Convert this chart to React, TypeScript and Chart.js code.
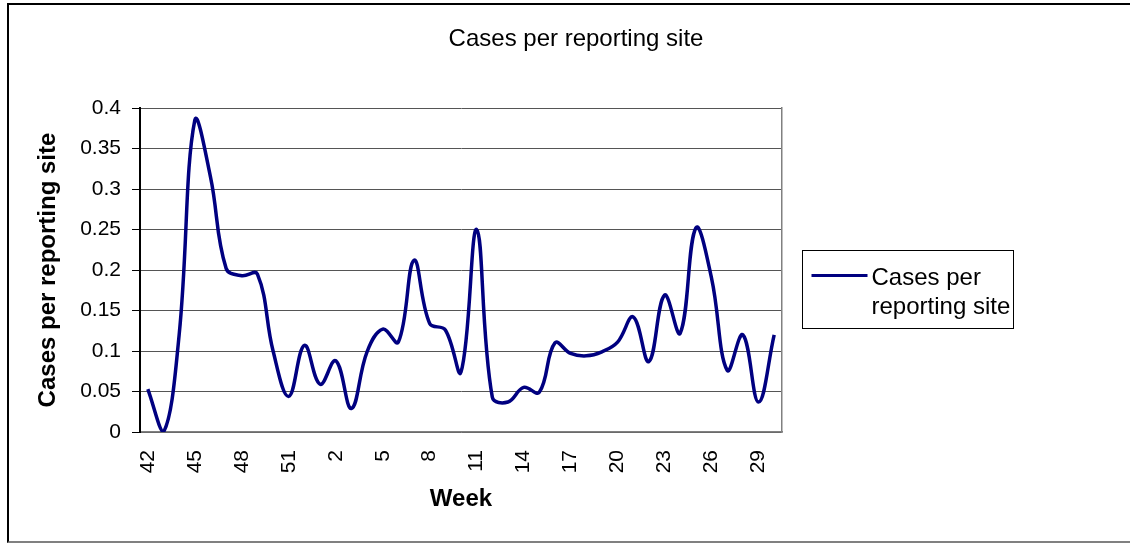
import React, { useEffect, useRef } from 'react';
import { Chart, registerables } from 'chart.js';

Chart.register(...registerables);

// ---- Data ----
const weeks: string[] = [
  '42', '43', '44', '45', '46', '47', '48', '49', '50', '51', '52',
  '1', '2', '3', '4', '5', '6', '7', '8', '9', '10',
  '11', '12', '13', '14', '15', '16', '17', '18', '19', '20',
  '21', '22', '23', '24', '25', '26', '27', '28', '29', '30',
];

const casesPerSite: number[] = [
  0.053, 0.0, 0.12, 0.385, 0.315, 0.202, 0.193, 0.195, 0.1, 0.044, 0.107,
  0.059, 0.088, 0.029, 0.099, 0.127, 0.111, 0.212, 0.134, 0.126, 0.074,
  0.25, 0.043, 0.037, 0.055, 0.049, 0.11, 0.097, 0.094, 0.099, 0.111,
  0.142, 0.087, 0.169, 0.122, 0.252, 0.19, 0.076, 0.12, 0.037, 0.12,
];

const yMin = 0;
const yMax = 0.4;
const yStep = 0.05;
const xLabelEvery = 3;

const chartTitle = 'Cases per reporting site';
const seriesLabel = 'Cases per reporting site';
const legendLines: string[] = ['Cases per', 'reporting site'];
const xAxisTitle = 'Week';
const yAxisTitle = 'Cases per reporting site';

const FONT = "'Liberation Sans', Arial, Helvetica, sans-serif";
const LINE_COLOR = '#000080';

const legendPlugin = {
  id: 'excelLegend',
  afterDraw(chart: any) {
    const ctx = chart.ctx;
    const ds = chart.data.datasets[0];
    const area = chart.chartArea;
    const boxX = area.right + 20.5;
    const boxY = 250.5;
    const boxW = 211;
    const boxH = 78;
    ctx.save();
    ctx.strokeStyle = '#000';
    ctx.lineWidth = 1;
    ctx.strokeRect(boxX, boxY, boxW, boxH);
    // line sample
    ctx.strokeStyle = ds.borderColor;
    ctx.lineWidth = 3;
    ctx.beginPath();
    ctx.moveTo(boxX + 9, boxY + 25);
    ctx.lineTo(boxX + 65, boxY + 25);
    ctx.stroke();
    // text
    ctx.fillStyle = '#000';
    ctx.font = `24px ${FONT}`;
    ctx.textAlign = 'left';
    ctx.textBaseline = 'alphabetic';
    legendLines.forEach((line, i) => {
      ctx.fillText(line, boxX + 69, boxY + 34 + i * 29);
    });
    ctx.restore();
  },
};

export default function App() {
  const canvasRef = useRef<HTMLCanvasElement | null>(null);

  useEffect(() => {
    const canvas = canvasRef.current;
    if (!canvas) return;
    const chart = new Chart(canvas, {
      type: 'line',
      data: {
        labels: weeks,
        datasets: [
          {
            label: seriesLabel,
            data: casesPerSite,
            borderColor: LINE_COLOR,
            backgroundColor: LINE_COLOR,
            borderWidth: 3.5,
            pointRadius: 0,
            pointHoverRadius: 0,
            tension: 0.4,
            fill: false,
          },
        ],
      },
      options: {
        responsive: false,
        animation: false,
        devicePixelRatio: 1,
        layout: { padding: { left: 22, right: 0, top: 0, bottom: 0 } },
        plugins: {
          legend: { display: false },
          tooltip: { enabled: false },
          title: {
            display: true,
            text: chartTitle,
            color: '#000',
            font: { family: FONT, size: 24, weight: 'normal' },
            padding: { top: 24.6, bottom: 54.6 },
          },
        },
        scales: {
          x: {
            type: 'category',
            offset: true,
            afterFit: (s: any) => {
              s.height = 111;
            },
            ticks: {
              autoSkip: false,
              minRotation: 90,
              maxRotation: 90,
              color: '#000',
              font: { family: FONT, size: 21 },
              padding: 18,
              callback: (_v: any, idx: number) => (idx % xLabelEvery === 0 ? weeks[idx] : ''),
            },
            grid: { display: false, drawTicks: false },
            border: { display: true, color: '#808080', width: 1.5 },
            title: {
              display: true,
              text: xAxisTitle,
              color: '#000',
              font: { family: FONT, size: 24, weight: 'bold' },
              padding: { top: 0, bottom: 29.6 },
            },
          },
          y: {
            type: 'linear',
            min: yMin,
            max: yMax,
            afterFit: (s: any) => {
              s.width = 118;
            },
            ticks: {
              stepSize: yStep,
              color: '#000',
              font: { family: FONT, size: 21 },
              padding: 11,
              callback: (v: any) => String(Math.round(Number(v) * 100) / 100),
            },
            grid: { color: '#555', lineWidth: 1, tickColor: '#000', tickLength: 8, drawTicks: true },
            border: { display: true, color: '#000', width: 2 },
            title: {
              display: true,
              text: yAxisTitle,
              color: '#000',
              font: { family: FONT, size: 24, weight: 'bold' },
              padding: { top: 11.6, bottom: 0 },
            },
          },
          y2: {
            type: 'linear',
            position: 'right',
            min: yMin,
            max: yMax,
            afterFit: (s: any) => {
              s.width = 348;
            },
            ticks: { display: false },
            grid: { display: false, drawTicks: false },
            border: { display: true, color: '#808080', width: 1.5 },
          },
        },
      },
      plugins: [legendPlugin],
    } as any);
    return () => chart.destroy();
  }, []);

  return (
    <div
      style={{
        position: 'absolute',
        left: 0,
        top: 0,
        width: 1130,
        height: 543,
        overflow: 'hidden',
        background: '#fff',
      }}
    >
      <canvas ref={canvasRef} width={1130} height={543} style={{ display: 'block' }} />
      <div
        style={{
          position: 'absolute',
          left: 7,
          top: 3,
          width: 1140,
          height: 540,
          boxSizing: 'border-box',
          borderTop: '2px solid #000',
          borderLeft: '2px solid #000',
          borderBottom: '2px solid #808080',
          pointerEvents: 'none',
        }}
      />
    </div>
  );
}
